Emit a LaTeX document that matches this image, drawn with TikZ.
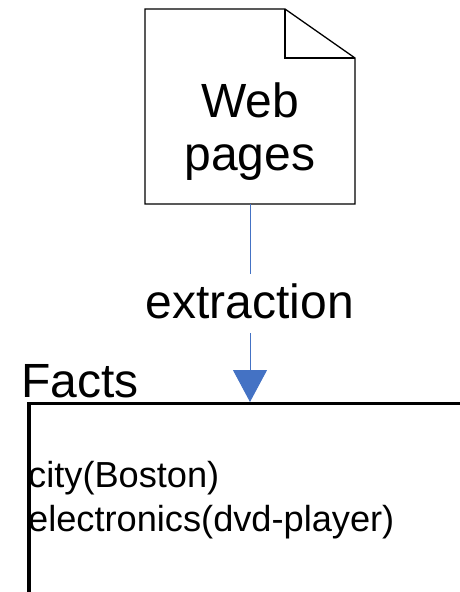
\documentclass[tikz,border=0pt]{standalone}
\usepackage{fontspec}
\setmainfont{Liberation Sans}
\usetikzlibrary{arrows.meta}
\definecolor{flowblue}{HTML}{4472C4}
\tikzset{
  bigtext/.style={font=\fontsize{48}{53}\selectfont, inner sep=0pt, anchor=base},
  facttext/.style={font=\fontsize{36.2}{44}\selectfont, inner sep=0pt, anchor=base west},
  docline/.style={draw=black, line width=1.3pt, line join=miter},
  flow/.style={draw=flowblue, line width=1pt},
  flowarrow/.style={flow, -{Triangle[width=34pt,length=32pt]}, fill=flowblue},
  boxline/.style={draw=black, line width=3.4pt}
}
\begin{document}
\begin{tikzpicture}[x=1pt,y=-1pt]
  \useasboundingbox (0,0) rectangle (460,592);

  % document with folded corner
  \draw[docline] (145,9) -- (285,9) -- (355,58) -- (355,204) -- (145,204) -- cycle;
  \draw[docline] (285,9) -- (285,58) -- (355,58);
  \node[bigtext] (web) at (250,117) {Web};
  \node[bigtext] (pages) at (250,170) {pages};
  \coordinate (docbottom) at (250,204);

  % extraction step
  \node[font=\fontsize{48}{53}\selectfont, anchor=base, inner sep=0pt,
        text height=44pt, text depth=15pt] (extraction) at (250,318) {extraction};
  \coordinate (factstop) at (250,402);
  \draw[flow] (docbottom) -- (extraction.north);
  \draw[flowarrow] (extraction.south) -- (factstop);

  % fact store
  \node[font=\fontsize{48}{53}\selectfont, anchor=base west, inner sep=0pt] (factslabel) at (21,397) {Facts};
  \coordinate (boxright) at (460,403.5);
  \coordinate (boxcorner) at (29,403.5);
  \coordinate (boxbottom) at (29,592);
  \draw[boxline] (boxright) -- (boxcorner) -- (boxbottom);
  \node[facttext] (fact1) at (28,487) {city(Boston)};
  \node[facttext] (fact2) at (28,531) {electronics(dvd-player)};
\end{tikzpicture}
\end{document}
